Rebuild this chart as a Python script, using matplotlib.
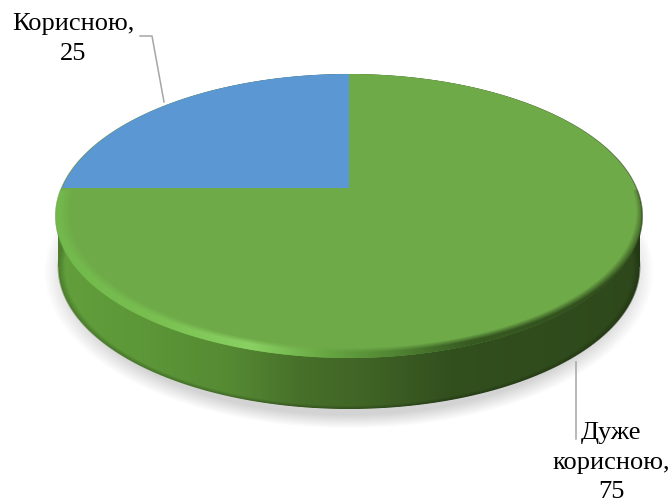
#!/usr/bin/env python3
"""3D-looking pie chart, drawn in pixel coordinates of the 671x501 canvas."""
import numpy as np
import matplotlib
matplotlib.use("Agg")
import matplotlib.pyplot as plt
from matplotlib.colors import to_rgb

# data, clockwise from 12 o'clock
names = ["Дуже\nкорисною,", "Корисною,"]
values = [75, 25]
colors = ["#6faa49", "#5b97d2"]

W, H = 671, 501

# perspective of the pie top: vertex, radii, tilt
VX, VY = 349.0, 188.0
RX, RY, TILT = 287.0, 136.5, 0.197
DEPTH = 51.0


def project(theta):
    """Unit circle (theta clockwise from top) -> canvas pixels."""
    u, v = np.sin(theta), np.cos(theta)
    w = 1 + TILT * v
    return VX + RX * u / w, VY - RY * v / w


def soft(d, edge, width):
    return np.clip((edge - d) / width + 0.5, 0, 1)


def ell(xx, yy, cx, cy, a, b):
    return np.hypot((xx - cx) / a, (yy - cy) / b)


def ramp(xx, stops):
    xs = [s[0] for s in stops]
    rgb = np.array([to_rgb(s[1]) for s in stops])
    return np.dstack([np.interp(xx, xs, rgb[:, i]) for i in range(3)])


xx, yy = np.meshgrid(np.arange(W) + 0.5, np.arange(H) + 0.5)
extent = (0, W, H, 0)

fig = plt.figure(figsize=(W / 100, H / 100), dpi=100)
ax = fig.add_axes([0, 0, 1, 1])
ax.set_xlim(0, W)
ax.set_ylim(H, 0)
ax.axis("off")

# shadow under the disc
d_sh = ell(xx, yy, 349, 272, 296, 152)
sh = np.zeros((H, W, 4))
sh[..., :3] = 0.55
sh[..., 3] = 0.38 * soft(d_sh, 0.985, 0.09)
ax.imshow(sh, extent=extent, aspect="auto", zorder=1)

# side wall
d_top = ell(xx, yy, 349, 216, 293.5, 142)
d_bot = ell(xx, yy, 349, 216 + DEPTH, 291, 142)
band = soft(np.abs(xx - 349), 291, 1.0) * (yy > 216) * (yy < 216 + DEPTH)
mask = np.maximum.reduce([soft(d_top, 1, 0.006), soft(d_bot, 1, 0.006), band])
side = np.dstack([ramp(xx, [(55, "#63a03c"), (150, "#5c9638"), (230, "#558a33"),
                            (300, "#47702a"), (370, "#3f6325"), (450, "#324f1e"),
                            (640, "#2e481b")]), mask])
# darker lip along the lower edge
side[..., :3] *= (0.80 + 0.20 * soft(d_bot, 0.985, 0.02))[..., None]
ax.imshow(side, extent=extent, aspect="auto", zorder=2)

# top face, slices from the values
total = sum(values)
start = 0.0
for val, col in zip(values, colors):
    th = np.linspace(start, start + 2 * np.pi * val / total, 300)
    px, py = project(th)
    ax.fill(np.r_[VX, px], np.r_[VY, py], color=col, lw=0, zorder=3)
    start = th[-1]

# bevel: lit rim on the left and bottom, dark on the right
d_in = ell(xx, yy, 353, 212, 288, 138)
rim_a = (1 - soft(d_in, 1, 0.035)) * soft(d_top, 1, 0.006) * soft(-yy, -190, 3)
rim = np.dstack([ramp(xx, [(55, "#72b84c"), (150, "#78bf50"), (250, "#8ad163"),
                           (330, "#66a541"), (400, "#4f8232"), (470, "#375a21"),
                           (640, "#304c1c")]), rim_a])
ax.imshow(rim, extent=extent, aspect="auto", zorder=4)

# leader lines
ax.plot([140, 152, 164], [36, 36, 102], color="#a6a6a6", lw=1.1, zorder=5)
ax.plot([576, 576], [362, 439], color="#a6a6a6", lw=1.1, zorder=5)

# data labels
font = dict(family="Liberation Serif", fontsize=19, color="black", ha="center",
            va="top", linespacing=1.45, zorder=6)
ax.text(73, 13, f"{names[1]}\n{values[1]}", **font)
ax.text(611, 422, f"{names[0]}\n{values[0]}", **font)

ax.set_xlim(0, W)
ax.set_ylim(H, 0)
fig.savefig("out.png", dpi=100)
